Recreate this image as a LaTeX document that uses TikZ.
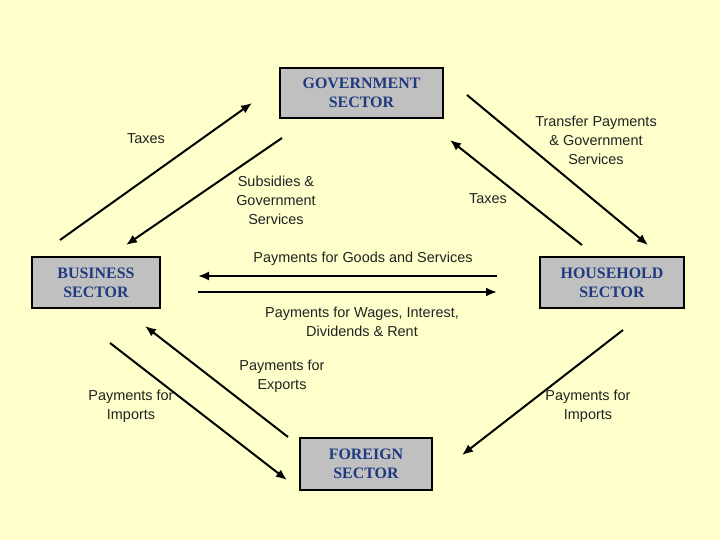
\documentclass[tikz,border=0pt]{standalone}
\usepackage{fontspec}
\setmainfont{Liberation Sans}
\newfontfamily\boxfont{Liberation Serif}
\definecolor{bgyellow}{HTML}{FFFFCC}
\definecolor{boxgray}{HTML}{C0C0C0}
\definecolor{sectorblue}{HTML}{1F3A80}
\definecolor{labelgray}{HTML}{222222}
\tikzset{
  sector/.style={draw=black,line width=1.5bp,fill=boxgray,text=sectorblue,
    font=\boxfont\fontsize{16}{19}\selectfont\bfseries,align=center},
  flowlabel/.style={text=labelgray,font=\fontsize{14.5}{19}\selectfont,align=center},
  flow/.style={line width=2bp,-{Latex[length=11bp,width=9bp]}}
}
\usetikzlibrary{arrows.meta}
\begin{document}
\begin{tikzpicture}[x=1bp,y=1bp]
  \fill[bgyellow] (0,0) rectangle (720,540);

  % sectors
  \node[sector,minimum width=163bp,minimum height=50bp] (gov) at (361.5,447) {GOVERNMENT\\SECTOR};
  \node[sector,minimum width=128bp,minimum height=51bp] (bus) at (96,257.5) {BUSINESS\\SECTOR};
  \node[sector,minimum width=144bp,minimum height=51bp] (hh) at (612,257.5) {HOUSEHOLD\\SECTOR};
  \node[sector,minimum width=132bp,minimum height=52bp] (for) at (366,76) {FOREIGN\\SECTOR};

  % arrow ends
  \coordinate (a1) at (60,300);  \coordinate (b1) at (252,437);
  \coordinate (a2) at (282,402); \coordinate (b2) at (126,295);
  \coordinate (a3) at (467,445); \coordinate (b3) at (648,295);
  \coordinate (a4) at (582,295); \coordinate (b4) at (450,400);
  \coordinate (a5) at (497,264); \coordinate (b5) at (198,264);
  \coordinate (a6) at (198,248); \coordinate (b6) at (497,248);
  \coordinate (a7) at (288,103); \coordinate (b7) at (145,214);
  \coordinate (a8) at (110,197); \coordinate (b8) at (287,60);
  \coordinate (a9) at (623,210); \coordinate (b9) at (462,85);

  \foreach \i in {1,...,9}
    \draw[flow] (a\i) -- (b\i);

  % labels
  \node[flowlabel] (ltaxb) at (146,401) {Taxes};
  \node[flowlabel] (lsub) at (276,340) {Subsidies \&\\Government\\Services};
  \node[flowlabel] (ltaxh) at (488,341) {Taxes};
  \node[flowlabel] (ltrans) at (596,400) {Transfer Payments\\\& Government\\Services};
  \node[flowlabel] (lgoods) at (363,281) {Payments for Goods and Services};
  \node[flowlabel] (lwages) at (362,218) {Payments for Wages, Interest,\\Dividends \& Rent};
  \node[flowlabel] (lexp) at (282,164) {Payments for\\Exports};
  \node[flowlabel] (limpb) at (131,134) {Payments for\\Imports};
  \node[flowlabel] (limph) at (588,134) {Payments for\\Imports};
\end{tikzpicture}
\end{document}
